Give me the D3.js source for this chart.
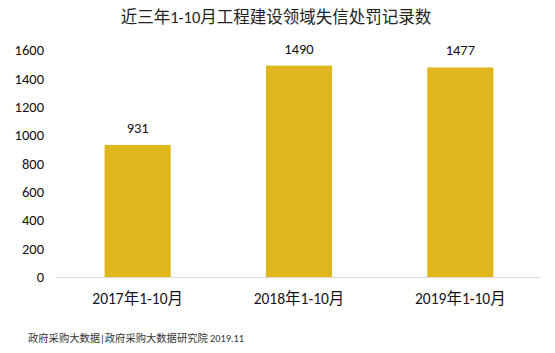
<!DOCTYPE html>
<html>
<head>
<meta charset="utf-8">
<script src="https://cdn.jsdelivr.net/npm/d3@7"></script>
<style>
  body { margin: 0; background: #fff; }
  svg text { font-family: Carlito, Lato, "Noto Sans CJK SC", sans-serif; font-weight: 400; }
</style>
</head>
<body>
<svg id="chart" width="555" height="353"></svg>
<script>
const categories = ["2017年1-10月", "2018年1-10月", "2019年1-10月"];
const values = [931, 1490, 1477];
const yTicks = [0, 200, 400, 600, 800, 1000, 1200, 1400, 1600];
const title = "近三年1-10月工程建设领域失信处罚记录数";
const source = "政府采购大数据|政府采购大数据研究院 2019.11";

const svg = d3.select("#chart");
const plot = { left: 57, right: 541, top: 50, bottom: 277 };

const x = d3.scaleBand().domain(categories).range([plot.left, plot.right]).paddingInner(0.59).paddingOuter(0.295);
const y = d3.scaleLinear().domain([0, 1600]).range([plot.bottom, plot.top]);

svg.append("text")
  .attr("x", 276).attr("y", 23)
  .attr("text-anchor", "middle")
  .attr("font-size", 16.5).attr("fill", "#222")
  .text(title);

// y tick labels (no gridlines)
svg.append("g").selectAll("text").data(yTicks).join("text")
  .attr("x", 44).attr("y", d => y(d)).attr("dy", "0.36em")
  .attr("text-anchor", "end").attr("font-size", 14.5).attr("fill", "#111")
  .text(d => d);

svg.append("g").selectAll("rect").data(values).join("rect")
  .attr("x", (d, i) => x(categories[i]))
  .attr("y", d => y(d))
  .attr("width", x.bandwidth())
  .attr("height", d => y(0) - y(d))
  .attr("fill", "#DFB61B");

svg.append("line")
  .attr("x1", plot.left).attr("x2", plot.right).attr("y1", plot.bottom + 0.5).attr("y2", plot.bottom + 0.5)
  .attr("stroke", "#d9d9d9").attr("stroke-width", 1);

svg.append("g").selectAll("text").data(values).join("text")
  .attr("x", (d, i) => x(categories[i]) + x.bandwidth() / 2)
  .attr("y", d => y(d) - 12)
  .attr("text-anchor", "middle").attr("font-size", 14.5).attr("fill", "#111")
  .text(d => d);

svg.append("g").selectAll("text").data(categories).join("text")
  .attr("x", d => x(d) + x.bandwidth() / 2)
  .attr("y", 304)
  .attr("text-anchor", "middle").attr("font-size", 15.5).attr("fill", "#111")
  .text(d => d);

svg.append("text")
  .attr("x", 28).attr("y", 342)
  .attr("font-size", 10.3).attr("fill", "#333")
  .text(source);
</script>
</body>
</html>
